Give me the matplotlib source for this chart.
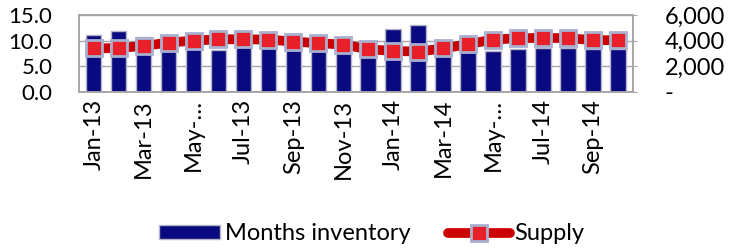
import matplotlib
matplotlib.use("Agg")
import matplotlib.pyplot as plt
from matplotlib.lines import Line2D
from matplotlib.patches import Patch

months = ["Jan-13", "Feb-13", "Mar-13", "Apr-13", "May-13", "Jun-13", "Jul-13", "Aug-13",
          "Sep-13", "Oct-13", "Nov-13", "Dec-13", "Jan-14", "Feb-14", "Mar-14", "Apr-14",
          "May-14", "Jun-14", "Jul-14", "Aug-14", "Sep-14", "Oct-14"]
inventory = [11.1, 11.9, 10.7, 9.5, 8.6, 8.2, 8.7, 8.7, 8.5, 8.0, 9.5, 8.5,
             12.3, 13.1, 8.5, 8.5, 8.0, 8.3, 8.5, 8.6, 8.3, 8.3]
supply = [3400, 3420, 3590, 3850, 4000, 4110, 4110, 4080, 3930, 3800, 3700, 3330,
          3200, 3150, 3390, 3730, 4080, 4190, 4220, 4190, 4050, 4030]
xlabels = ["Jan-13", "Mar-13", "May-\u2026", "Jul-13", "Sep-13", "Nov-13",
           "Jan-14", "Mar-14", "May-\u2026", "Jul-14", "Sep-14"]
left_ticks = [0, 5, 10, 15]
left_labels = ["0.0", "5.0", "10.0", "15.0"]
right_ticks = [0, 2000, 4000, 6000]
right_labels = ["-", "2,000", "4,000", "6,000"]

plt.rcParams["font.family"] = ["Lato", "DejaVu Sans"]
fs = 17
grey = "#a6a6a6"

fig = plt.figure(figsize=(7.29, 2.5), dpi=100)
ax = fig.add_axes([0.108, 0.632, 0.76, 0.308])
x = list(range(len(months)))

ax.bar(x, inventory, width=0.62, color="#0a0a80", edgecolor="#b4b4c8", linewidth=1, zorder=2)
ax.set_ylim(0, 15)
ax.set_xlim(-0.6, len(months) - 0.4)
ax.set_yticks(left_ticks)
ax.set_yticklabels(left_labels, fontsize=16)
ax.set_xticks(x[::2])
ax.set_xticklabels(xlabels, rotation=90, fontsize=fs)
ax.tick_params(axis="x", length=0, pad=5)
ax.tick_params(axis="y", length=0, pad=19)
ax.yaxis.grid(True, color=grey, linewidth=1, zorder=0)
ax.set_axisbelow(True)
for s in ax.spines.values():
    s.set_color(grey)
    s.set_linewidth(1.2)

ax2 = ax.twinx()
ax2.plot(x, supply, color="#cc0000", linewidth=7, marker="s", markersize=11,
         markerfacecolor="#e8202a", markeredgecolor="#a8b0d0", markeredgewidth=2,
         solid_capstyle="round", zorder=3)
ax2.set_ylim(0, 6000)
ax2.set_yticks(right_ticks)
ax2.set_yticklabels(right_labels, fontsize=fs)
ax2.tick_params(axis="y", length=3, color=grey, pad=20)
for lbl in ax2.get_yticklabels():
    lbl.set_horizontalalignment("left")
for s in ax2.spines.values():
    s.set_color(grey)
    s.set_linewidth(1.2)

handles = [Patch(facecolor="#0a0a80", edgecolor="#b4b4c8"),
           Line2D([0], [0], color="#cc0000", linewidth=7, marker="s", markersize=11,
                  markerfacecolor="#e8202a", markeredgecolor="#a8b0d0", markeredgewidth=2,
                  solid_capstyle="round")]
fig.legend(handles, ["Months inventory", "Supply"], loc="center", bbox_to_anchor=(0.51, 0.065),
           ncol=2, frameon=False, fontsize=fs, handlelength=2.6, handleheight=0.5,
           handletextpad=0.2, columnspacing=1.6)

fig.savefig("out.png", dpi=100)
